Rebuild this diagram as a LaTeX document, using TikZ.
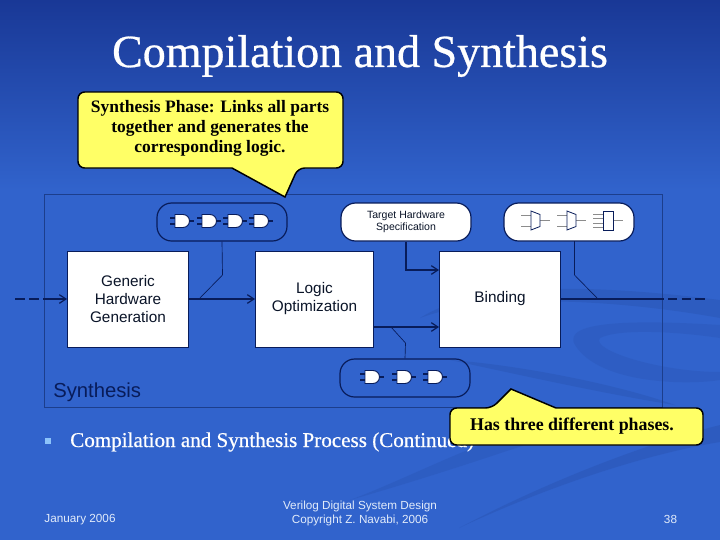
\documentclass[tikz,border=0pt]{standalone}
\usepackage{fontspec}
\setmainfont{Liberation Serif}
\setsansfont{Liberation Sans}
\newfontfamily\heavyserif[FakeBold=0.6]{Liberation Serif}
\usetikzlibrary{arrows.meta,calc}
\definecolor{bgtop}{RGB}{25,56,150}
\definecolor{bgmid}{RGB}{49,99,204}
\definecolor{swoosh}{RGB}{42,86,182}
\definecolor{navy}{RGB}{8,28,90}
\definecolor{frameblue}{RGB}{28,62,140}
\definecolor{callout}{RGB}{255,255,102}
\definecolor{softtext}{RGB}{10,20,40}
\definecolor{bulletblue}{RGB}{140,195,250}
\definecolor{footwhite}{RGB}{225,235,250}
\tikzset{
  x=0.75pt,y=-0.75pt,
  procbox/.style={draw=navy,line width=0.7pt,fill=white,inner sep=0pt,font=\sffamily\fontsize{11.5}{13.6}\selectfont,align=center,text=softtext},
  pill/.style={draw=navy,line width=0.9pt,rounded corners=11pt,inner sep=0pt,minimum width=97.5pt,minimum height=28.5pt},
  flow/.style={draw=navy,line width=0.9pt,-{Straight Barb[length=5pt,width=6.5pt]}},
  link/.style={draw=navy,line width=0.5pt},
  callshape/.style={draw=black,fill=callout,line width=1.1pt,rounded corners=5pt},
  calltext/.style={font=\bfseries\fontsize{13.1}{15}\selectfont,align=center,text=black},
  gatepin/.style={draw=navy,line width=0.8pt},
  muxpin/.style={draw=black!45,line width=0.5pt},
  foot/.style={font=\sffamily\fontsize{8.8}{10.5}\selectfont,text=footwhite,align=center}
}
\newcommand{\gateand}[2]{%
  \draw[gatepin] (#1-5,#2-3) -- (#1,#2-3) (#1-5,#2+3) -- (#1,#2+3) (#1+14,#2) -- (#1+19,#2);
  \draw[navy,line width=0.7pt,fill=white] (#1,#2-6.5) -- (#1+8,#2-6.5) arc[start angle=90,end angle=-90,radius=4.875pt] -- (#1,#2+6.5) -- cycle;}
\newcommand{\gatemux}[2]{%
  \draw[muxpin] (#1-10,#2-5.5) -- (#1,#2-5.5) (#1-10,#2+5.5) -- (#1,#2+5.5) (#1+9,#2) -- (#1+19,#2);
  \draw[navy,line width=0.6pt,fill=white] (#1,#2-9.5) -- (#1+9,#2-6) -- (#1+9,#2+6) -- (#1,#2+9.5) -- cycle;}
\newcommand{\gatedec}[2]{%
  \draw[muxpin] (#1-10,#2-6.5) -- (#1,#2-6.5) (#1-10,#2-2) -- (#1,#2-2) (#1-10,#2+2.5) -- (#1,#2+2.5) (#1-10,#2+7) -- (#1,#2+7) (#1+9,#2) -- (#1+20,#2);
  \draw[navy,line width=0.6pt,fill=white] (#1,#2-9.5) rectangle (#1+10,#2+9.5);}
\begin{document}
\begin{tikzpicture}
\useasboundingbox (0,0) rectangle (720,540);
% background
\fill[bgmid] (0,0) rectangle (720,540);
\fill[top color=bgtop,bottom color=bgmid] (0,0) rectangle (720,190);
% swooshes
\fill[swoosh,opacity=.5] (720,300) .. controls (600,285) and (480,280) .. (420,318) .. controls (490,292) and (620,300) .. (720,318) -- cycle;
\fill[swoosh,opacity=.4] (720,325) .. controls (640,320) and (560,320) .. (575,345) .. controls (600,385) and (690,385) .. (720,380) -- (720,372) .. controls (660,372) and (590,350) .. (600,338) .. controls (620,328) and (680,332) .. (720,338) -- cycle;
\fill[swoosh,opacity=.55] (459,528) .. controls (540,485) and (640,445) .. (720,425) -- (720,442) .. controls (640,455) and (540,490) .. (459,528) -- cycle;
\fill[swoosh,opacity=.45] (350,500) .. controls (420,480) and (480,460) .. (540,440) -- (480,445) .. controls (430,465) and (390,485) .. (350,500) -- cycle;
\fill[swoosh,opacity=.5] (450,360) .. controls (520,365) and (620,385) .. (675,405) .. controls (610,395) and (520,375) .. (450,360) -- cycle;
% title
\node (title) [font=\heavyserif\fontsize{34.5}{40}\selectfont,text=white] at (360,56) {Compilation and Synthesis};
% frame
\node (frame) [draw=frameblue,line width=0.6pt,minimum width=463.5pt,minimum height=159.75pt,inner sep=0pt,anchor=north west] at (43.5,193.5) {};
\node (synlabel) [font=\sffamily\fontsize{15.2}{17}\selectfont,text=navy,anchor=base west,inner sep=0pt] at (53,397) {Synthesis};
% process boxes
\node (gen) [procbox,minimum width=90.75pt,minimum height=72pt] at (128,299) {Generic\\Hardware\\Generation};
\node (opt) [procbox,minimum width=88.5pt,minimum height=72pt] at (314.5,299) {\raisebox{-3pt}{\begin{tabular}{@{}c@{}}Logic\\Optimization\end{tabular}}};
\node (bind) [procbox,minimum width=90.75pt,minimum height=72pt] at (500,299) {Binding};
% pills
\node (p1) [pill] at (222,222) {};
\node (p2) [pill,fill=white,font=\sffamily\fontsize{7.9}{9}\selectfont,text=softtext,align=center] at (406,222) {Target Hardware\\Specification};
\node (p3) [pill,fill=white] at (569,222) {};
\node (p4) [pill] at (405,378) {};
% in/out
\coordinate (inL) at (15,299);
\coordinate (outR) at (707,299);
\draw[navy,line width=0.9pt,dash pattern=on 7.5pt off 3pt] (inL) -- ($(gen.west)+(-27,0)$);
\draw[flow] ($(gen.west)+(-24,0)$) -- (gen.west);
\draw[flow] (gen.east) -- (opt.west);
\draw[navy,line width=0.9pt] (bind.east) -- (664,299);
\draw[navy,line width=0.9pt,dash pattern=on 7pt off 3.2pt] (668,299) -- (outR);
\draw[flow] (p2.south) |- (bind.west |- 0,270);
\draw[flow] (opt.east |- 0,327) -- (bind.west |- 0,327);
% thin links
\draw[link] (p1.south) -- (222.5,275) -- (199,299);
\draw[link] (p4.north) -- (405.5,343) -- (391,327);
\draw[link] (574.5,241) -- (574.5,275) -- (598,299);
% gates
\gateand{175}{221}\gateand{202}{221}\gateand{228}{221}\gateand{254}{221}
\gateand{365}{377}\gateand{397}{377}\gateand{428}{377}
\gatemux{531}{220.5}\gatemux{567}{220.5}\gatedec{603}{220.5}
% bullet line
\fill[bulletblue] (45,437.5) rectangle (51,443.5);
\node (main) [font=\heavyserif\fontsize{15.8}{17}\selectfont,text=white,anchor=base west,inner sep=0pt] at (70,447) {Compilation and Synthesis Process (Continued)};
% callouts
\draw[callshape] (78,92) -- (343,92) -- (343,168) -- (298,168) [sharp corners] -- (285,197) -- (232,168) [rounded corners=5pt] -- (78,168) -- cycle;
\node (c1) [calltext] at (210,128.5) {Synthesis Phase: Links all parts\\together and generates the\\corresponding logic.};
\draw[callshape] (450,408) -- (492,408) [sharp corners] -- (511,389) -- (556,408) [rounded corners=5pt] -- (703,408) -- (703,445) -- (450,445) -- cycle;
\node (c2) [calltext,font=\bfseries\fontsize{13.4}{15}\selectfont] at (572,426) {Has three different phases.};
% footer
\node (f1) [foot] at (80,519.5) {January 2006};
\node (f2) [foot] at (360,513) {Verilog Digital System Design\\Copyright Z. Navabi, 2006};
\node (f3) [foot] at (670.5,519.5) {38};
\end{tikzpicture}
\end{document}
